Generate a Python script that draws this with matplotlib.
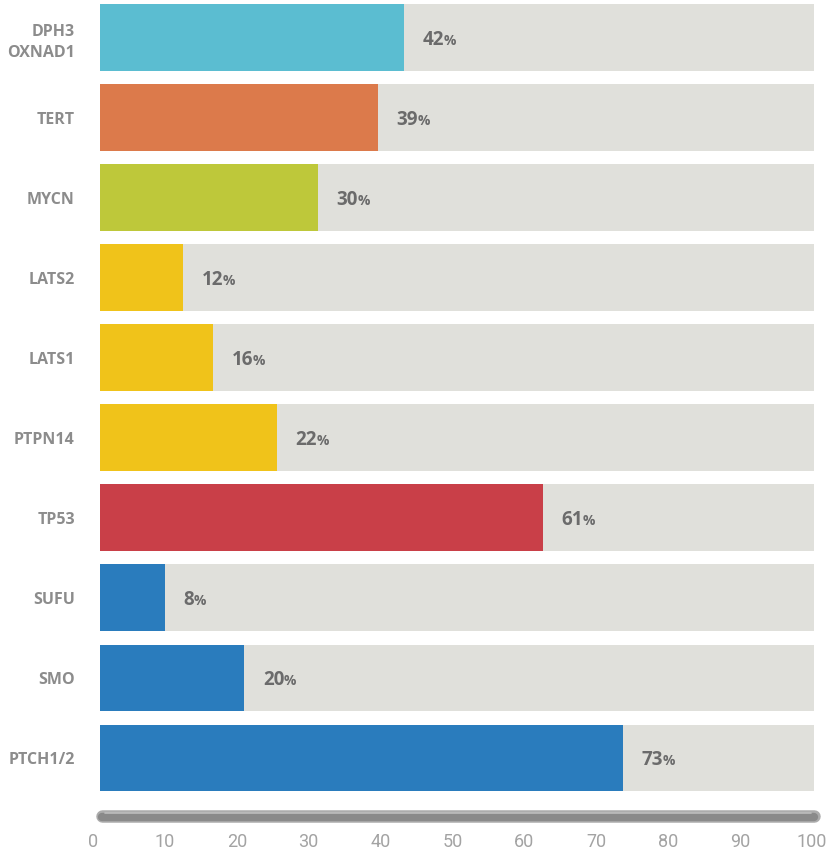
import matplotlib
matplotlib.use("Agg")
import matplotlib.pyplot as plt
from matplotlib import font_manager

genes = ["DPH3\nOXNAD1", "TERT", "MYCN", "LATS2", "LATS1", "PTPN14", "TP53", "SUFU", "SMO", "PTCH1/2"]
bar_values = [42.6, 38.9, 30.5, 11.6, 15.8, 24.8, 62.0, 9.1, 20.2, 73.2]
label_values = [42, 39, 30, 12, 16, 22, 61, 8, 20, 73]
colors = ["#5bbdd1", "#dc7a4b", "#bec83a", "#f0c31a", "#f0c31a", "#f0c31a",
          "#c93f48", "#2a7cbd", "#2a7cbd", "#2a7cbd"]
xticks = [0, 10, 20, 30, 40, 50, 60, 70, 80, 90, 100]

names = {f.name for f in font_manager.fontManager.ttflist}
tick_family = "Liberation Sans Narrow" if "Liberation Sans Narrow" in names else "Roboto"

W, H = 828, 851
fig = plt.figure(figsize=(W / 100, H / 100), dpi=100)
ppu = 7.14                      # pixels per data unit
x_lo = -1.0
ax_left = 100 + x_lo * ppu
ax_right = 814
ax_top, ax_bot = 0, 826
ax = fig.add_axes([ax_left / W, 1 - ax_bot / H, (ax_right - ax_left) / W, (ax_bot - ax_top) / H])

pitch = 80.06
c0 = 37.5

ypos = list(range(len(genes)))
bh = 0.835
ax.barh(ypos, [100] * len(genes), height=bh, color="#e0e0db", zorder=1)
ax.barh(ypos, bar_values, height=bh, color=colors, zorder=2)

fam = ["Open Sans", "DejaVu Sans"]

ax.set_yticks(ypos)
ax.set_yticklabels(genes, fontsize=11.5, fontweight="bold", color="#8c8c8c",
                   family=fam, linespacing=1.45)
tick_pos = [-0.98 + t * 1.0068 for t in xticks]
ax.set_xticks(tick_pos)
ax.set_xticklabels([str(t) for t in xticks], fontsize=13, color="#a3a3a3",
                   family=[tick_family, "DejaVu Sans"])
ax.set_xlim(x_lo, 100)
ax.set_ylim((ax_bot - c0) / pitch, (ax_top - c0) / pitch)
ax.tick_params(axis="both", length=0)
ax.tick_params(axis="y", pad=13)
ax.tick_params(axis="x", pad=5)
for s in ax.spines.values():
    s.set_visible(False)

# scroll-like axis bar
sy = (816 - c0) / pitch
ax.plot([0.3, 100.0], [sy, sy], color="#acacac", lw=9.0, solid_capstyle="round",
        clip_on=False, zorder=3)
ax.plot([0.3, 100.0], [sy + 0.6 / pitch, sy + 0.6 / pitch], color="#8a8a8a", lw=6.0,
        solid_capstyle="round", clip_on=False, zorder=4)
ax.plot([0.7, 99.6], [sy - 3.2 / pitch, sy - 3.2 / pitch], color="#bdbdbd", lw=1.2,
        solid_capstyle="round", clip_on=False, zorder=5)

txts = []
for y, v, lab in zip(ypos, bar_values, label_values):
    t = ax.text(v + 2.6, y + 0.09, f"{lab}", ha="left", va="baseline",
                fontsize=13.5, fontweight="bold", color="#6b6b6b",
                family=fam, zorder=3)
    txts.append((t, v, y))

fig.canvas.draw()
r = fig.canvas.get_renderer()
for t, v, y in txts:
    bb = t.get_window_extent(renderer=r)
    x0, y0 = ax.transData.transform((v + 2.6, y + 0.09))
    xd, _ = ax.transData.inverted().transform((bb.x1 - 0.5, y0))
    ax.text(xd, y + 0.09, "%", ha="left", va="baseline", fontsize=10,
            fontweight="bold", color="#6b6b6b", family=fam, zorder=3)

fig.savefig("out.png", dpi=100, facecolor="white")
